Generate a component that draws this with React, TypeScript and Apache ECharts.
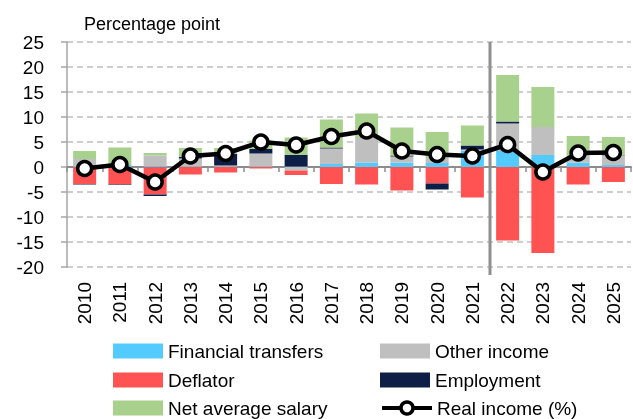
import React, { useEffect, useRef } from "react";
import * as echarts from "echarts";

const years = ["2010","2011","2012","2013","2014","2015","2016","2017","2018","2019","2020","2021","2022","2023","2024","2025"];
const financialTransfers = [0.1, 0.4, 0.2, 0.1, 0.1, 0.1, 0.1, 0.6, 0.9, 0.9, 0.8, 3.3, 3.2, 2.4, 0.9, 0.4];
const otherIncome = [1.5, 0, 2.1, 1.6, 0.2, 2.6, -0.7, 3.1, 4.9, 1.2, 1.0, 0.2, 5.5, 5.6, 1.5, 1.8];
const deflator = [-3.4, -3.5, -5.5, -1.5, -1.1, -0.3, -0.9, -3.4, -3.5, -4.7, -3.3, -6.1, -14.7, -17.2, -3.5, -3.0];
const employment = [-0.1, -0.1, -0.3, 0.3, 2.3, 0.9, 2.3, 0.2, 0, 0.2, -1.2, 0.8, 0.4, 0, 0, 0.1];
const netAverageSalary = [1.6, 3.5, 0.5, 1.8, 1.2, 1.7, 3.5, 5.6, 4.9, 5.6, 5.2, 4.0, 9.3, 8.0, 3.8, 3.7];
const realIncome = [-0.3, 0.5, -3.0, 2.2, 2.7, 5.0, 4.4, 6.1, 7.2, 3.2, 2.5, 2.2, 4.5, -1.0, 2.8, 2.9];

const FONT = "Liberation Sans";
const GRID_TOP = 42;
const GRID_BOTTOM = 152;
const W = 633;
const H = 419;

const legendItems = [
  { name: "Financial transfers", col: 0, row: 0, rect: true },
  { name: "Other income", col: 1, row: 0, rect: true },
  { name: "Deflator", col: 0, row: 1, rect: true },
  { name: "Employment", col: 1, row: 1, rect: true },
  { name: "Net average salary", col: 0, row: 2, rect: true },
  { name: "Real income (%)", col: 1, row: 2, rect: false },
];
const legendColLeft = [113, 380];
const legendRowTop = [340, 369, 397];

export default function App() {
  const ref = useRef<HTMLDivElement>(null);
  useEffect(() => {
    if (!ref.current) return;
    const chart = echarts.init(ref.current, null, { renderer: "svg" });
    const bar = (name: string, data: number[], color: string) => ({
      name,
      type: "bar",
      stack: "total",
      data,
      barWidth: 23,
      itemStyle: { color },
      xAxisIndex: 0,
      yAxisIndex: 0,
    });
    chart.setOption({
      animation: false,
      textStyle: { fontFamily: FONT },
      title: {
        text: "Percentage point",
        left: 79,
        top: 10,
        textStyle: { fontFamily: FONT, fontSize: 18, fontWeight: "normal", color: "#000" },
      },
      grid: { left: 67, right: 2, top: GRID_TOP, bottom: GRID_BOTTOM, containLabel: false },
      legend: legendItems.map((it) => ({
        left: legendColLeft[it.col],
        top: legendRowTop[it.row],
        orient: "horizontal",
        itemWidth: 50,
        itemHeight: 15,
        padding: 0,
        textStyle: { fontFamily: FONT, fontSize: 19, color: "#000", lineHeight: 22 },
        data: [
          it.rect
            ? { name: it.name, icon: "rect" }
            : {
                name: it.name,
                lineStyle: { width: 4, color: "#000" },
                itemStyle: { color: "#fff", borderColor: "#000", borderWidth: 3.5 },
              },
        ],
      })),
      xAxis: [
        {
          type: "category",
          data: years,
          position: "bottom",
          axisLine: { show: false, onZero: false },
          axisTick: { show: false },
          axisLabel: { rotate: 90, margin: 15, fontSize: 19, color: "#000", fontFamily: FONT },
        },
        {
          type: "category",
          data: years,
          position: "bottom",
          axisLine: { show: true, onZero: true, lineStyle: { color: "#8C8C8C", width: 2 } },
          axisTick: { show: true, length: 5, lineStyle: { color: "#8C8C8C", width: 1.5 } },
          axisLabel: { show: false },
          splitLine: { show: false },
        },
      ],
      yAxis: {
        type: "value",
        min: -20,
        max: 25,
        interval: 5,
        axisLine: { show: true, lineStyle: { color: "#A6A6A6", width: 1.5 } },
        axisTick: { show: true, length: 6, lineStyle: { color: "#A6A6A6", width: 1.5 } },
        axisLabel: { fontSize: 19, color: "#000", margin: 23, fontFamily: FONT },
        splitLine: { show: true, lineStyle: { color: "#BFBFBF", width: 1.5, type: [6, 4] } },
      },
      series: [
        bar("Financial transfers", financialTransfers, "#53CBFF"),
        bar("Other income", otherIncome, "#BFBFBF"),
        bar("Deflator", deflator, "#FF5252"),
        bar("Employment", employment, "#0E1F47"),
        bar("Net average salary", netAverageSalary, "#A9D18E"),
        {
          name: "Real income (%)",
          type: "line",
          data: realIncome,
          xAxisIndex: 0,
          yAxisIndex: 0,
          symbol: "circle",
          symbolSize: 14,
          z: 10,
          lineStyle: { color: "#000", width: 4.5 },
          itemStyle: { color: "#fff", borderColor: "#000", borderWidth: 3.5 },
        },
      ],
    });
    const a = chart.convertToPixel({ xAxisIndex: 0 }, years[11]) as unknown as number;
    const b = chart.convertToPixel({ xAxisIndex: 0 }, years[12]) as unknown as number;
    const xa = Array.isArray(a) ? a[0] : a;
    const xb = Array.isArray(b) ? b[0] : b;
    const x = (xa + xb) / 2;
    chart.setOption({
      graphic: [
        {
          type: "line",
          z: 5,
          shape: { x1: x, y1: GRID_TOP, x2: x, y2: H - GRID_BOTTOM + 8 },
          style: { stroke: "#8F8F8F", lineWidth: 3 },
        },
      ],
    });
    return () => chart.dispose();
  }, []);
  return <div ref={ref} style={{ position: "fixed", left: 0, top: 0, width: W, height: H }} />;
}
